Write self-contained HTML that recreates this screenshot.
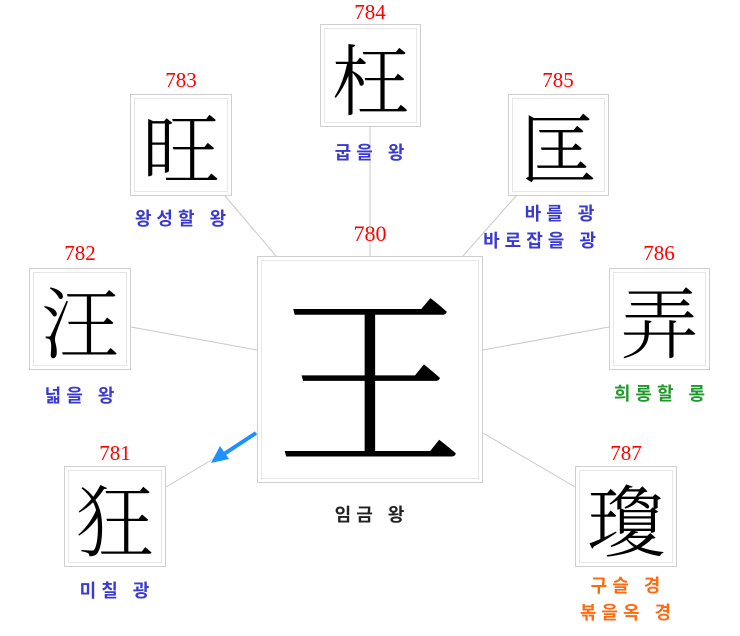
<!DOCTYPE html>
<html><head><meta charset="utf-8"><style>
body{margin:0;width:740px;height:636px;background:#fff;position:relative;overflow:hidden;font-family:"Liberation Serif",serif}
.b{position:absolute;box-sizing:border-box;border:1px solid #cfcfcf;background:#fff}
.b::after{content:"";position:absolute;left:3px;top:3px;right:3px;bottom:3px;border:1px solid #e6e6e6}
.c{position:absolute;left:0;right:0;top:0;bottom:0;display:flex;align-items:center;justify-content:center;font-family:"Noto Serif CJK SC",serif;font-weight:300;color:#000;font-size:78px;line-height:1}
.n{position:absolute;color:#f00;font-size:21px;text-align:center;width:100px}
.k{position:absolute;font-family:"Liberation Sans","Noto Sans CJK KR","NanumGothic",sans-serif;font-weight:bold;font-size:18px;letter-spacing:5px;text-align:center;width:220px;color:#3a3ad0;line-height:22px}
</style></head><body>
<svg width="740" height="636" style="position:absolute;left:0;top:0">
<g stroke="#c8c8c8" stroke-width="1">
<line x1="370" y1="127" x2="370" y2="256"/>
<line x1="225" y1="196" x2="276" y2="256"/>
<line x1="516" y1="196" x2="463" y2="256"/>
<line x1="131" y1="327" x2="257" y2="350"/>
<line x1="609" y1="327" x2="483" y2="350"/>
<line x1="166" y1="487" x2="257" y2="433"/>
<line x1="575" y1="487" x2="483" y2="433"/>
</g>
<line x1="256" y1="433" x2="224" y2="454" stroke="#1e90ff" stroke-width="4"/>
<polygon points="211,463 220,446 229,459" fill="#1e90ff"/>
</svg>
<div class="b" style="left:257px;top:256px;width:226px;height:227px"><div class="c" style="font-size:190px">王</div></div>
<div class="n" style="left:320px;top:221px;font-size:22px">780</div>
<div class="k" style="left:262px;top:504px;color:#222">임금 왕</div>

<div class="b" style="left:64px;top:466px;width:102px;height:101px"><div class="c">狂</div></div>
<div class="n" style="left:65px;top:441px">781</div>
<div class="k" style="left:7px;top:580px">미칠 광</div>

<div class="b" style="left:29px;top:268px;width:102px;height:102px"><div class="c">汪</div></div>
<div class="n" style="left:30px;top:241px">782</div>
<div class="k" style="left:-28px;top:385px">넓을 왕</div>

<div class="b" style="left:130px;top:94px;width:102px;height:102px"><div class="c">旺</div></div>
<div class="n" style="left:131px;top:68px">783</div>
<div class="k" style="left:73px;top:208px">왕성할 왕</div>

<div class="b" style="left:320px;top:24px;width:101px;height:103px"><div class="c">枉</div></div>
<div class="n" style="left:320px;top:0px">784</div>
<div class="k" style="left:262px;top:142px">굽을 왕</div>

<div class="b" style="left:508px;top:94px;width:101px;height:102px"><div class="c">匡</div></div>
<div class="n" style="left:508px;top:68px">785</div>
<div class="k" style="left:452px;top:203px">바를 광</div>
<div class="k" style="left:432px;top:230px">바로잡을 광</div>

<div class="b" style="left:609px;top:268px;width:101px;height:102px"><div class="c">弄</div></div>
<div class="n" style="left:609px;top:241px">786</div>
<div class="k" style="left:552px;top:383px;color:#1f9a2a">희롱할 롱</div>

<div class="b" style="left:575px;top:466px;width:102px;height:101px"><div class="c">瓊</div></div>
<div class="n" style="left:576px;top:441px">787</div>
<div class="k" style="left:518px;top:575px;color:#ff6a10">구슬 경</div>
<div class="k" style="left:518px;top:602px;color:#ff6a10">볶을옥 경</div>
</body></html>
